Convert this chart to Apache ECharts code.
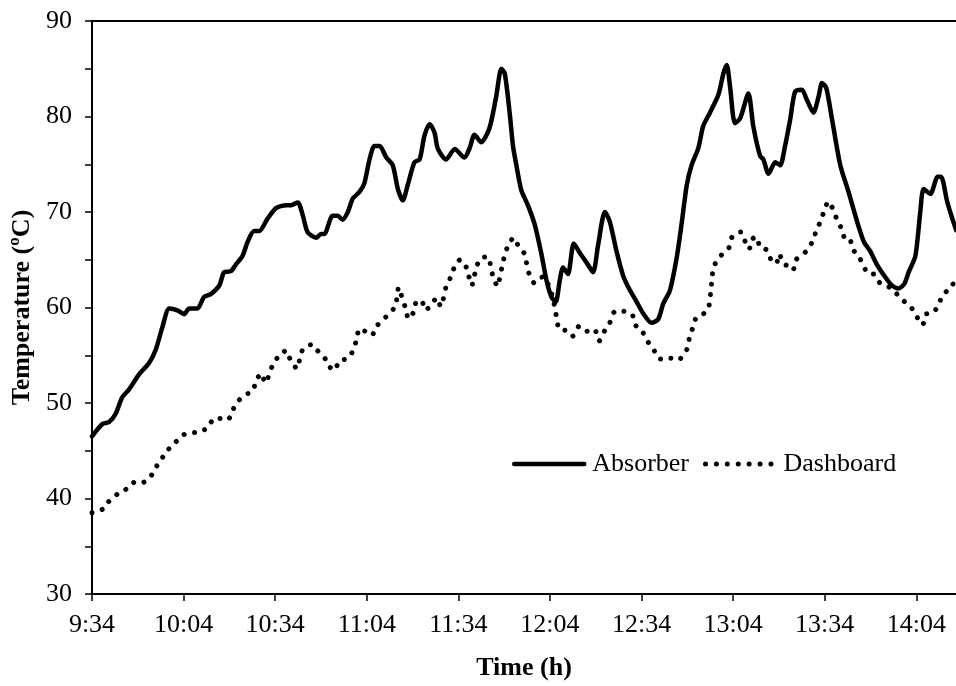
<!DOCTYPE html>
<html>
<head>
<meta charset="utf-8">
<script src="https://cdn.jsdelivr.net/npm/echarts@6/dist/echarts.min.js"></script>
<style>html,body{margin:0;padding:0;background:#fff}#c{width:956px;height:686px}</style>
</head>
<body>
<div id="c"></div>
<script>
// minutes after 9:34
const absorberTime = [0,3.4,5.6,7.8,9.9,12.1,15.4,18.7,20.9,23.1,25.3,28.0,30.2,31.8,34.5,36.7,38.9,41.7,43.3,45.5,47.1,49.3,51.0,53.1,54.8,57.5,60.3,63.6,65.2,67.4,69.0,70.6,73.4,75.0,76.1,78.8,80.5,82.1,83.8,85.4,87.6,89.2,90.9,92.5,94.2,96.4,98.5,100.2,101.8,103.4,105.6,107.3,108.9,110.6,112.2,113.3,116.0,118.8,122.0,123.7,125.3,127.5,130.2,132.4,134.1,135.2,136.8,137.9,139.0,140.6,142.8,145.0,147.2,148.9,150.5,151.9,153.2,154.3,155.9,157.8,159.8,162.0,164.1,165.8,168.0,169.6,171.8,174.0,176.2,178.4,180.5,183.3,185.5,187.1,189.3,191.5,193.1,194.8,196.4,198.6,200.2,202.4,205.2,206.8,207.9,209.0,210.6,212.3,215.0,216.6,218.8,219.9,221.6,223.8,225.4,227.0,228.7,230.3,232.5,234.2,236.3,238.0,239.1,240.5,242.4,245.1,247.8,250.6,252.8,254.9,257.1,259.8,262.0,264.2,266.1,267.5,269.7,271.3,272.4,274.6,277.0,278.1,280.1,281.7,283.1];
const absorberTemp = [46.5,47.8,48.0,48.9,50.6,51.4,53.0,54.2,55.6,58.0,59.9,59.7,59.3,59.9,59.9,61.1,61.4,62.3,63.7,63.8,64.5,65.4,66.9,68.0,68.0,69.3,70.4,70.7,70.7,71.0,69.7,67.9,67.3,67.7,67.7,69.6,69.6,69.2,70.0,71.4,72.1,73.0,75.5,76.9,76.9,75.7,74.9,72.4,71.2,72.8,75.2,75.5,78.0,79.2,78.3,76.6,75.5,76.6,75.7,76.7,78.1,77.3,78.8,82.1,85.0,84.5,80.4,76.9,74.9,72.3,70.7,68.7,65.6,62.8,61.1,60.6,62.8,64.2,63.5,66.7,65.7,64.7,63.7,66.6,70.0,69.0,65.9,63.3,61.8,60.6,59.4,58.4,58.8,60.4,61.8,65.2,68.7,72.8,74.9,76.7,79.0,80.4,82.3,84.5,85.4,83.1,79.3,79.8,82.4,79.0,75.9,75.5,74.0,75.2,74.9,76.9,79.7,82.6,82.8,81.7,80.4,82.1,83.5,83.0,79.7,74.9,72.1,69.0,66.9,65.9,64.5,63.2,62.3,62.0,62.5,63.7,65.4,70.0,72.4,71.9,73.7,73.7,71.1,69.4,68.1];

const dashTime = [0,3.6,5.8,8.5,11.3,14.0,16.8,19.4,21.2,23.1,24.9,27.1,29.6,32.2,34.9,37.6,39.8,41.4,44.4,46.0,47.9,50.4,52.6,53.7,55.5,56.7,58.1,59.2,61.4,63.6,65.0,67.2,68.1,69.2,71.8,73.4,75.9,77.5,79.4,81.0,84.0,85.6,86.7,87.6,89.5,91.6,93.4,95.2,97.2,99.3,100.0,100.4,101.6,102.7,103.7,105.3,106.2,107.9,109.3,111.5,113.0,114.2,115.3,116.0,117.7,118.8,120.6,122.6,123.5,124.4,125.3,126.2,128.3,129.8,130.7,131.6,132.9,133.6,134.4,135.2,136.3,138.1,139.9,141.5,142.3,143.1,144.8,146.4,148.1,149.9,151.0,151.6,152.3,153.0,155.1,157.4,159.4,162.0,163.7,165.0,166.1,167.8,169.6,171.0,174.0,176.9,177.9,180.4,182.1,184.1,186.0,189.3,192.2,193.6,195.0,195.6,196.6,197.7,199.7,201.8,202.4,202.8,203.1,203.7,205.4,207.1,208.7,209.7,212.5,213.7,215.2,216.4,217.7,218.8,221.2,222.4,224.1,225.1,226.5,228.3,229.6,230.6,232.5,234.3,236.1,237.2,238.7,239.8,241.2,242.7,244.0,245.6,246.7,248.1,249.2,251.3,252.7,254.6,256.0,258.0,261.3,263.7,266.2,268.8,270.6,272.1,273.2,275.7,277.4,278.8,281.2,282.8];
const dashTemp = [38.5,38.9,39.8,40.5,41.0,41.7,41.7,42.4,43.4,44.3,45.1,45.8,46.6,46.9,46.9,47.4,48.3,48.4,48.2,49.2,50.2,50.9,51.2,52.3,53.1,52.1,53.0,54.0,55.0,55.5,54.5,53.6,54.7,55.7,56.1,55.6,54.9,53.9,53.4,54.4,54.7,55.6,56.7,57.8,57.5,57.1,58.1,58.7,59.3,60.1,61.3,62.1,61.0,59.9,58.8,59.5,60.6,60.7,59.7,60.5,61.0,60.1,61.2,62.2,63.3,64.3,65.0,64.2,63.2,62.3,63.4,64.5,65.3,65.3,64.1,63.0,62.2,63.2,64.4,65.5,66.5,67.3,66.3,65.7,64.7,63.6,62.6,63.1,63.2,62.0,61.0,59.9,58.8,57.7,57.6,57.0,58.0,57.5,57.8,57.5,56.5,57.5,58.4,59.5,59.6,59.3,58.2,57.4,56.4,55.5,54.6,54.7,54.5,55.1,55.7,56.7,57.7,58.8,59.2,59.8,60.9,62.0,63.2,64.3,65.2,65.8,66.3,67.4,67.9,67.1,66.1,67.2,67.4,66.3,66.0,65.0,64.6,65.6,64.6,64.3,63.9,65.0,65.5,66.0,67.0,68.0,69.1,70.1,71.1,70.3,69.2,68.2,67.2,67.2,66.1,65.3,64.3,63.5,63.5,62.6,62.1,61.4,60.6,59.8,58.8,58.2,59.3,59.5,60.4,61.4,62.0,63.0];

const startHour = 9, startMin = 34;
const xMax = 283;
const yTicks = [30, 40, 50, 60, 70, 80, 90];

function pairs(t, v) { return t.map((x, i) => [x, v[i]]); }
function fmtTime(m) {
  if (Math.abs(m % 30) > 1e-6) return '';
  const total = startHour * 60 + startMin + m;
  const h = Math.floor(total / 60), mm = total % 60;
  return h + ':' + (mm < 10 ? '0' : '') + mm;
}

const FONT = 'Liberation Serif, Times New Roman, serif';
const solidStyle = { color: '#000', width: 4.5, cap: 'round', join: 'round' };
const dotStyle = { color: '#000', width: 5, type: [0.01, 10.5], cap: 'round', join: 'round' };

const chart = echarts.init(document.getElementById('c'), null, { renderer: 'canvas' });
chart.setOption({
  animation: false,
  backgroundColor: '#fff',
  grid: { left: 92, right: 0, top: 21, bottom: 85, containLabel: false },
  legend: {
    left: 507, top: 446,
    itemWidth: 70, itemHeight: 26, itemGap: 14,
    textStyle: { fontFamily: FONT, fontSize: 26, color: '#000', padding: [0, 0, 0, 3] },
    itemStyle: { opacity: 0 },
    data: [
      { name: 'Absorber', itemStyle: { opacity: 0 }, lineStyle: { color: '#000', width: 4.5, cap: 'round' } },
      { name: 'Dashboard', itemStyle: { opacity: 0 }, lineStyle: { color: '#000', width: 5, type: [0.01, 10.9], cap: 'round' } }
    ]
  },
  xAxis: [{
    type: 'value', min: 0, max: xMax, interval: 30, position: 'bottom',
    axisLine: { show: true, onZero: false, lineStyle: { color: '#000', width: 2 } },
    axisTick: { show: true, length: 7, lineStyle: { color: '#000', width: 1.5 } },
    axisLabel: { formatter: fmtTime, fontFamily: FONT, fontSize: 26, color: '#000', margin: 18, showMaxLabel: false },
    splitLine: { show: false },
    name: 'Time (h)', nameLocation: 'middle', nameGap: 61,
    nameTextStyle: { fontFamily: FONT, fontSize: 26, fontWeight: 'bold', color: '#000' }
  }, {
    type: 'value', min: 0, max: xMax, position: 'top',
    axisLine: { show: true, onZero: false, lineStyle: { color: '#000', width: 2 } },
    axisTick: { show: false }, axisLabel: { show: false }, splitLine: { show: false }
  }],
  yAxis: {
    type: 'value', min: yTicks[0], max: yTicks[yTicks.length - 1], interval: 10,
    axisLine: { show: true, onZero: false, lineStyle: { color: '#000', width: 2 } },
    axisTick: { show: true, length: 7, lineStyle: { color: '#000', width: 1.5 } },
    minorTick: { show: true, splitNumber: 2, length: 7, lineStyle: { color: '#000', width: 1.5 } },
    axisLabel: { fontFamily: FONT, fontSize: 26, color: '#000', margin: 20 },
    splitLine: { show: false },
    name: 'Temperature (ºC)', nameLocation: 'middle', nameGap: 56,
    nameTextStyle: { fontFamily: FONT, fontSize: 26, fontWeight: 'bold', color: '#000' }
  },
  series: [{
    name: 'Absorber', type: 'line', xAxisIndex: 0, showSymbol: false, symbol: 'none',
    smooth: 0.25, clip: true,
    lineStyle: solidStyle,
    itemStyle: { color: '#000' },
    data: pairs(absorberTime, absorberTemp)
  }, {
    name: 'Dashboard', type: 'line', xAxisIndex: 0, showSymbol: false, symbol: 'none',
    smooth: 0.25, clip: true,
    lineStyle: dotStyle,
    itemStyle: { color: '#000' },
    data: pairs(dashTime, dashTemp)
  }]
});
</script>
</body>
</html>
